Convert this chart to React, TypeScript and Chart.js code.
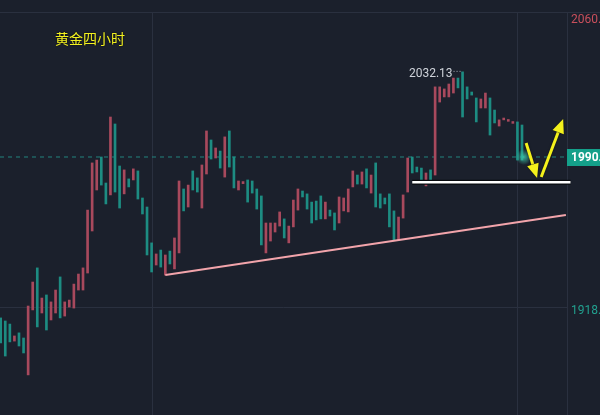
import React, { useEffect, useRef } from "react";
import { Chart, registerables } from "chart.js";

Chart.register(...registerables);

// ---------- data ----------
const TITLE = "黄金四小时";

const opens = [
  1912.1, 1910.6, 1909.1, 1900.8, 1904.8, 1902.3, 1884.3, 1916.0, 1936.5, 1914.5,
  1923.3, 1911.1, 1914.5, 1932.1, 1913.0, 1917.4, 1916.9, 1925.7, 1925.7, 1934.0,
  1954.5, 1974.5, 1990.6, 1977.9, 1972.1, 2006.7, 1986.2, 1972.6, 1979.9, 1979.4,
  1983.8, 1970.6, 1966.2, 1948.7, 1937.9, 1945.2, 1933.0, 1944.7, 1936.0, 1943.8,
  1975.0, 1966.2, 1983.8, 1980.4, 1965.7, 1982.3, 1998.9, 1990.1, 1993.5, 1980.8,
  2003.3, 1990.6, 1974.5, 1977.6, 1979.4, 1978.9, 1975.0, 1971.6, 1943.8, 1949.6,
  1954.0, 1956.9, 1960.4, 1948.7, 1956.5, 1964.7, 1974.0, 1972.6, 1968.6, 1969.1,
  1971.6, 1960.4, 1964.7, 1963.3, 1958.4, 1964.3, 1963.8, 1976.0, 1981.8, 1977.4,
  1984.8, 1973.0, 1987.7, 1972.6, 1970.6, 1972.6, 1964.3, 1950.1, 1960.8, 1973.5,
  1990.6, 1985.7, 1985.2, 1976.5, 1984.3, 1981.8, 2017.4, 2019.9, 2019.9, 2021.8,
  2029.1, 2032.13, 2024.8, 2022.3, 2019.4, 2014.5, 2014.5, 2019.4, 2013.5, 2005.7,
  2008.7, 2008.0, 2007.0, 2007.7, 2006.2,
];

const closes = [
  1899.9, 1893.5, 1900.4, 1903.3, 1898.4, 1895.0, 1917.9, 1929.6, 1907.7, 1921.8,
  1906.2, 1919.9, 1925.7, 1912.1, 1919.9, 1920.8, 1928.6, 1933.5, 1936.5, 1964.7,
  1987.7, 1989.1, 1976.9, 1967.7, 2010.1, 1973.5, 1965.7, 1984.3, 1976.0, 1984.8,
  1970.1, 1962.8, 1942.8, 1934.5, 1943.3, 1936.9, 1942.8, 1938.4, 1951.1, 1978.9,
  1964.3, 1976.9, 1974.5, 1973.5, 1986.7, 2003.3, 1989.6, 1995.0, 1985.2, 2000.4,
  1985.7, 1975.5, 1978.9, 1978.6, 1968.6, 1973.0, 1965.2, 1947.7, 1958.4, 1958.4,
  1958.4, 1963.8, 1951.1, 1956.9, 1969.6, 1975.0, 1971.1, 1965.2, 1958.4, 1959.9,
  1960.4, 1968.6, 1961.8, 1955.0, 1971.1, 1970.6, 1975.0, 1983.8, 1977.4, 1983.3,
  1975.5, 1981.8, 1966.2, 1965.7, 1967.7, 1956.5, 1950.1, 1961.3, 1972.1, 1990.1,
  1982.8, 1983.3, 1978.4, 1982.8, 1978.4, 2024.8, 2024.8, 2023.8, 2026.2, 2029.1,
  2024.3, 2010.1, 2018.9, 2020.8, 2007.7, 2018.9, 2021.8, 2001.3, 2007.2, 2008.7,
  2009.6, 2008.9, 2007.9, 1989.1, 1989.1,
];

const lastPrice = 1990.6;
const lastPriceLabel = "1990.60";
const highLabel = "2032.13";
const highIndex = 101;
const highValue = 2032.13;

const axisTickValues = [2060, 1918];
const axisTickLabels = ["2060.00", "1918.00"];

const gridXValues = [33, 113];
const gridYValues = [1917.4];

// trend line (support) in data units
const trendX = [36, 123.6];
const trendY = [1933.0, 1962.3];

// white horizontal line
const levelX = [90, 124.6];
const levelY = [1978.3, 1978.3];

// arrows: [tailX, tailY, tipX, tipY]
const arrowDown = [114.9, 1997.4, 117.3, 1980.4];
const arrowUp = [118.2, 1980.8, 123.0, 2009.1];

const X_MIN = -0.153;
const X_MAX = 123.84;
const Y_MIN = 1864.74;
const Y_MAX = 2067.18;

// ---------- styles ----------
const BG = "#1b202c";
const GRID = "#2a303f";
const UP = "#a8495d";
const DOWN = "#1d8c82";

export default function App() {
  const ref = useRef<HTMLCanvasElement>(null);

  useEffect(() => {
    document.body.style.margin = "0";
    document.body.style.background = BG;

    const idx = opens.map((_, i) => i);
    const colors = opens.map((o, i) => (closes[i] >= o ? UP : DOWN));

    const bgPlugin = {
      id: "bgGrid",
      beforeDraw(chart: any) {
        const { ctx } = chart;
        const xs = chart.scales.x;
        const ys = chart.scales.y;
        const area = chart.chartArea;
        ctx.save();
        ctx.fillStyle = BG;
        ctx.fillRect(0, 0, chart.width, chart.height);
        ctx.strokeStyle = GRID;
        ctx.lineWidth = 1;
        ctx.beginPath();
        ctx.moveTo(0, 12.5);
        ctx.lineTo(chart.width, 12.5);
        ctx.moveTo(area.right + 0.5, 12);
        ctx.lineTo(area.right + 0.5, chart.height);
        gridXValues.forEach((v) => {
          const px = Math.round(xs.getPixelForValue(v)) + 0.5;
          ctx.moveTo(px, 12);
          ctx.lineTo(px, chart.height);
        });
        gridYValues.forEach((v) => {
          const py = Math.round(ys.getPixelForValue(v)) + 0.5;
          ctx.moveTo(0, py);
          ctx.lineTo(area.right, py);
        });
        ctx.stroke();
        ctx.restore();
      },
    };

    const drawArrow = (ctx: any, xs: any, ys: any, a: number[]) => {
      const x1 = xs.getPixelForValue(a[0]);
      const y1 = ys.getPixelForValue(a[1]);
      const x2 = xs.getPixelForValue(a[2]);
      const y2 = ys.getPixelForValue(a[3]);
      const ang = Math.atan2(y2 - y1, x2 - x1);
      const headLen = 14;
      const headW = 6;
      const bx = x2 - Math.cos(ang) * headLen;
      const by = y2 - Math.sin(ang) * headLen;
      ctx.save();
      ctx.shadowColor = "rgba(0,0,0,0.6)";
      ctx.shadowBlur = 2;
      ctx.strokeStyle = "#f4f11c";
      ctx.fillStyle = "#f4f11c";
      ctx.lineWidth = 3;
      ctx.beginPath();
      ctx.moveTo(x1, y1);
      ctx.lineTo(bx, by);
      ctx.stroke();
      ctx.beginPath();
      ctx.moveTo(x2, y2);
      ctx.lineTo(bx + Math.sin(ang) * headW, by - Math.cos(ang) * headW);
      ctx.lineTo(bx - Math.sin(ang) * headW, by + Math.cos(ang) * headW);
      ctx.closePath();
      ctx.fill();
      ctx.restore();
    };

    const overlayPlugin = {
      id: "overlay",
      afterDraw(chart: any) {
        const { ctx } = chart;
        const xs = chart.scales.x;
        const ys = chart.scales.y;
        const area = chart.chartArea;
        ctx.save();

        const gx = xs.getPixelForValue(opens.length - 0.6);
        const gy = ys.getPixelForValue(lastPrice);
        const grad = ctx.createRadialGradient(gx, gy, 0, gx, gy, 8);
        grad.addColorStop(0, "rgba(60,200,170,0.85)");
        grad.addColorStop(1, "rgba(60,200,170,0)");
        ctx.fillStyle = grad;
        ctx.beginPath();
        ctx.arc(gx, gy, 8, 0, Math.PI * 2);
        ctx.fill();

        ctx.font = "14px 'Noto Sans CJK SC'";
        ctx.textBaseline = "middle";
        ctx.textAlign = "left";
        ctx.shadowColor = "rgba(0,0,0,0.9)";
        ctx.shadowBlur = 2;
        ctx.fillStyle = "#f2f020";
        ctx.fillText(TITLE, 55, 39);
        ctx.shadowBlur = 0;
        ctx.shadowColor = "transparent";

        const hx = xs.getPixelForValue(highIndex);
        const hy = ys.getPixelForValue(highValue);
        ctx.font = "12px Roboto";
        ctx.fillStyle = "#cfd3da";
        ctx.textAlign = "right";
        ctx.fillText(highLabel, hx - 10, hy + 2);
        ctx.strokeStyle = "#aab0ba";
        ctx.lineWidth = 1;
        ctx.setLineDash([1, 2]);
        ctx.beginPath();
        ctx.moveTo(hx - 9, hy - 0.5);
        ctx.lineTo(hx - 1, hy - 0.5);
        ctx.stroke();
        ctx.setLineDash([]);

        ctx.textAlign = "left";
        ctx.font = "12px Roboto";
        axisTickValues.forEach((v, i) => {
          ctx.fillStyle = i === 0 ? "#c94f5c" : "#22a08f";
          ctx.fillText(axisTickLabels[i], area.right + 4, ys.getPixelForValue(v) + 5);
        });

        const py = ys.getPixelForValue(lastPrice);
        ctx.fillStyle = "#14a08a";
        ctx.fillRect(area.right, Math.round(py) - 8, chart.width - area.right, 17);
        ctx.fillStyle = "#ffffff";
        ctx.font = "bold 12px Roboto";
        ctx.fillText(lastPriceLabel, area.right + 4, Math.round(py) + 1);

        drawArrow(ctx, xs, ys, arrowDown);
        drawArrow(ctx, xs, ys, arrowUp);
        ctx.restore();
      },
    };

    const chart = new Chart(ref.current as HTMLCanvasElement, {
      type: "bar",
      data: {
        datasets: [
          {
            type: "line",
            data: levelX.map((x, i) => ({ x, y: levelY[i] })),
            borderColor: "#ffffff",
            borderWidth: 2.5,
            pointRadius: 0,
            clip: false,
          } as any,
          {
            type: "line",
            data: levelX.map((x, i) => ({ x, y: levelY[i] })),
            borderColor: "#0a0c10",
            borderWidth: 5,
            pointRadius: 0,
            clip: false,
          } as any,
          {
            type: "line",
            data: trendX.map((x, i) => ({ x, y: trendY[i] })),
            borderColor: "#f2a4ab",
            borderWidth: 2,
            pointRadius: 0,
          } as any,
          {
            type: "bar",
            data: idx.map((i) => ({ x: i, y: [opens[i], closes[i]] })),
            backgroundColor: colors,
            borderWidth: 0,
            barThickness: 2,
          } as any,
          {
            type: "line",
            data: [
              { x: X_MIN, y: lastPrice },
              { x: X_MAX, y: lastPrice },
            ],
            borderColor: "rgba(38,166,154,0.75)",
            borderWidth: 1,
            borderDash: [4, 4],
            pointRadius: 0,
          } as any,
        ],
      },
      options: {
        responsive: false,
        maintainAspectRatio: false,
        animation: false,
        devicePixelRatio: 1,
        layout: { padding: { left: 0, right: 33, top: 0, bottom: 0 } },
        plugins: { legend: { display: false }, tooltip: { enabled: false } },
        scales: {
          x: {
            type: "linear",
            min: X_MIN,
            max: X_MAX,
            offset: false,
            grid: { offset: false },
            display: false,
          },
          y: { type: "linear", min: Y_MIN, max: Y_MAX, beginAtZero: false, display: false },
        },
      },
      plugins: [bgPlugin, overlayPlugin],
    } as any);

    return () => chart.destroy();
  }, []);

  return (
    <div style={{ width: 600, height: 415 }}>
      <canvas ref={ref} width={600} height={415} style={{ display: "block" }} />
    </div>
  );
}
